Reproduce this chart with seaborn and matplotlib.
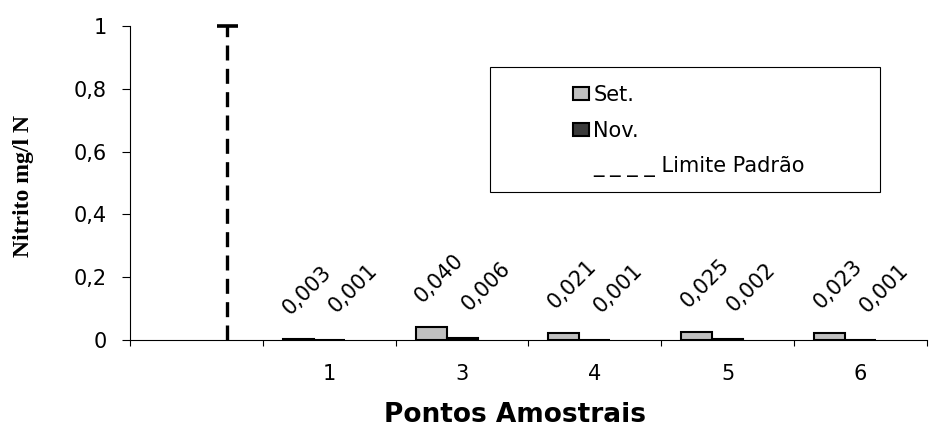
import numpy as np
import pandas as pd
import matplotlib
matplotlib.use("Agg")
import matplotlib.pyplot as plt
import seaborn as sns
from matplotlib.patches import Patch, Rectangle
from matplotlib.colors import to_rgba

# Sampling points and nitrite concentrations (mg/l N)
categories = ["", "1", "3", "4", "5", "6"]
set_vals = [None, 0.003, 0.040, 0.021, 0.025, 0.023]
nov_vals = [None, 0.001, 0.006, 0.001, 0.002, 0.001]
limite_vals = [1.0, None, None, None, None, None]
series_names = ["Set.", "Nov.", "Limite Padrão"]
legend_labels = ["Set.", "Nov.", "_ _ _ _ Limite Padrão"]
y_ticks = [0, 0.2, 0.4, 0.6, 0.8, 1.0]
y_tick_labels = ["0", "0,2", "0,4", "0,6", "0,8", "1"]
x_title = "Pontos Amostrais"
y_title = "Nitrito mg/l N"

rows = []
for name, vals in zip(series_names, [set_vals, nov_vals, limite_vals]):
    for cat, v in zip(categories, vals):
        if v is not None:
            rows.append({"Ponto": cat, "Série": name, "Valor": v})
df = pd.DataFrame(rows)

colors = {"Set.": "#c0c0c0", "Nov.": "#3a3a3a", "Limite Padrão": "#ffffff"}

sns.set_theme(style="white")
plt.rcParams["font.family"] = ["DejaVu Sans"]
plt.rcParams["text.color"] = "black"
plt.rcParams["axes.labelcolor"] = "black"

W, H = 939, 429
fig = plt.figure(figsize=(W / 100, H / 100), dpi=100)
ax = fig.add_axes([130 / W, 1 - 340 / H, (927 - 130) / W, (340 - 26) / H])

sns.barplot(data=df, x="Ponto", y="Valor", hue="Série", order=categories,
            hue_order=series_names, palette=colors, width=0.7, saturation=1,
            edgecolor="black", linewidth=1.5, errorbar=None, legend=False, ax=ax)

# map each bar container to its series via face colour
by_series = {}
for cont in ax.containers:
    fc = cont.patches[0].get_facecolor()
    for name in series_names:
        if np.allclose(fc[:3], to_rgba(colors[name])[:3]):
            by_series[name] = cont

# standard limit drawn as a dashed line with a cap
for p in by_series.get("Limite Padrão", []):
    p.set_visible(False)
    h = p.get_height()
    if np.isnan(h):
        continue
    xc = p.get_x() + p.get_width() / 2
    ax.plot([xc, xc], [0, h], color="black", lw=2.4, ls=(0, (4.5, 2.5)),
            clip_on=False, zorder=4)
    ax.plot([xc - 0.08, xc + 0.08], [h, h], color="black", lw=2.6,
            clip_on=False, solid_capstyle="butt", zorder=4)

# rotated value labels
offsets = {"Set.": (6, 15), "Nov.": (17, 17)}
for name, (dx, dy) in offsets.items():
    for p in by_series.get(name, []):
        h = p.get_height()
        if np.isnan(h):
            continue
        ax.annotate(f"{h:.3f}".replace(".", ","),
                    (p.get_x() + p.get_width() / 2, h),
                    xytext=(dx, dy), textcoords="offset points",
                    rotation=45, ha="center", va="bottom", fontsize=15,
                    color="black", annotation_clip=False)

ax.set_xlim(-0.5, len(categories) - 0.5)
ax.set_ylim(0, 1)
ax.set_yticks(y_ticks)
ax.set_yticklabels(y_tick_labels)
ax.set_xticks(range(len(categories)))
ax.set_xticklabels(categories)
ax.set_xticks(np.arange(-0.5, len(categories)), minor=True)
ax.tick_params(axis="x", which="major", length=0, pad=17, labelsize=15,
               labelcolor="black")
ax.tick_params(axis="x", which="minor", length=4.5, width=0.8,
               color="black", direction="out", bottom=True)
ax.tick_params(axis="y", which="major", length=5.8, width=0.8, color="black",
               direction="out", left=True, pad=11, labelsize=15,
               labelcolor="black")
ax.set_xlabel("")
ax.set_ylabel("")
sns.despine(ax=ax)
for s in ("left", "bottom"):
    ax.spines[s].set_color("black")
    ax.spines[s].set_linewidth(0.8)
ax.grid(False)

# legend with its own rectangular frame
fig.add_artist(Rectangle((490 / W, 1 - 192 / H), 390 / W, 125 / H,
                         transform=fig.transFigure, facecolor="white",
                         edgecolor="black", lw=0.8, zorder=3))
handles = [Patch(facecolor=colors["Set."], edgecolor="black", linewidth=1.5),
           Patch(facecolor=colors["Nov."], edgecolor="black", linewidth=1.5),
           Patch(facecolor="none", edgecolor="none")]
leg = fig.legend(handles, legend_labels, loc="upper left",
                 bbox_to_anchor=(573 / W, 1 - 85 / H), frameon=False, fontsize=15,
                 handlelength=0.78, handleheight=0.55, handletextpad=0.2,
                 labelspacing=0.75, borderpad=0, borderaxespad=0)
for t in leg.get_texts():
    t.set_color("black")

fig.text(23 / W, 1 - 186 / H, y_title, rotation=90, ha="center", va="center",
         fontsize=17, fontweight="bold", color="black",
         family=["Liberation Serif", "DejaVu Serif"])
fig.text(515 / W, 1 - 422 / H, x_title, ha="center", va="baseline", fontsize=19,
         fontweight="bold", color="black")

fig.savefig("out.png", dpi=100)
